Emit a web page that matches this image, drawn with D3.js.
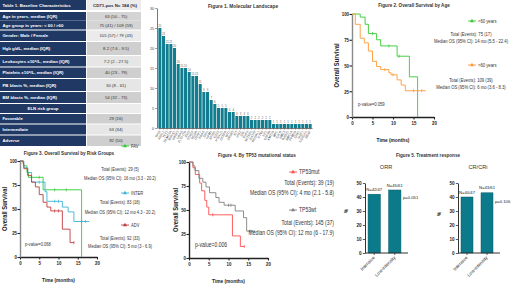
<!DOCTYPE html>
<html>
<head>
<meta charset="utf-8">
<script src="https://cdn.jsdelivr.net/npm/d3@7"></script>
<style>
  body { margin: 0; background: #fff; }
  svg { display: block; }
</style>
</head>
<body>
<svg id="chart" width="520" height="292"></svg>
<script>
// ---- table data ----
const tableHead = ["Table 1. Baseline Characteristics", "CD71-pos N= 184 (%)"];
const tableLabels = ["Age in years, median (IQR)", "Age group in years: < 60 / >60", "Gender: Male / Female",
  "Hgb g/dL, median (IQR)", "Leukocytes x10\u2079/L, median (IQR)", "Platelets x10\u2079/L, median (IQR)",
  "PB blasts %, median (IQR)", "BM blasts %, median (IQR)", "ELN risk group", "Favorable", "Intermediate", "Adverse"];
const tableValues = ["63 (50 - 75)", "75 (41) / 109 (59)", "105 (57) / 79 (43)", "8.2 (7.6 - 9.5)", "7.2 (2 - 27.5)",
  "40 (23 - 79)", "30 (8 - 61)", "54 (32 - 73)", "", "29 (16)", "63 (34)", "92 (50)"];

// ---- figure 1 data ----
const genes = ["TP53", "ASXL1", "TET2", "DNMT3A", "RUNX1", "SRSF2", "NRAS", "FLT3-ITD", "IDH2", "STAG2", "BCOR",
  "U2AF1", "KRAS", "IDH1", "NPM1", "SF3B1", "EZH2", "PTPN11", "CEBPA", "WT1", "ZRSR2", "KIT", "JAK2", "CBL",
  "PHF6", "SETBP1", "GATA2", "BCORL1", "ETV6", "NF1", "CSF3R", "KMT2A", "MPL", "CALR", "SMC3", "RAD21",
  "SMC1A", "PPM1D", "CUX1", "IKZF1", "NOTCH1", "BRAF"];
const geneCounts = [25, 23, 21, 21, 20, 16, 15, 15, 14, 13, 13, 11, 9, 9, 7, 6, 5, 5, 5, 4, 4, 3, 3, 3, 3,
  2, 2, 2, 2, 2, 2, 1, 1, 1, 1, 1, 1, 1, 1, 1, 1, 1];
const geneTicksY = [0, 5, 10, 15, 20, 25, 30];

// ---- survival data (time in months, survival %) ----
const survTicksX = [0, 5, 10, 15, 20];
const survTicksY = [0, 25, 50, 75, 100];

const ageLt60 = [[0, 100], [2, 97], [3.2, 90], [4, 81], [6, 75], [7, 69], [11, 59], [14, 39], [16, 0]];
const ageGe60 = [[0, 100], [0.8, 90], [2, 76.5], [3, 72], [4, 64], [5, 54], [6, 49], [7, 46], [9, 43],
  [9.5, 41], [11, 36], [12, 31], [13, 25.5], [18, 25.5]];
const ageLt60Cens = [5, 9, 11.5];
const ageGe60Cens = [8, 10, 15, 17];
const ageLegend = [
  ["<60 years", "Total (Events): 75 (17)", "Median OS (95% CI): 14 mo (5.5 - 22.4)"],
  [">60 years", "Total (Events): 109 (39)", "Median OS (95% CI): 6 mo (3.6 - 8.3)"]
];

const riskFav = [[0, 100], [0.9, 95], [1.8, 88], [2.2, 83], [6, 70], [16, 0]];
const riskInter = [[0, 100], [1, 93], [2, 88], [3, 78], [6.5, 68], [7, 58], [11, 52], [12.5, 47], [14, 37], [18, 37]];
const riskAdv = [[0, 100], [0.8, 97], [1, 92], [2, 85], [3, 78], [4, 73], [5, 65], [6, 57], [7, 52], [8, 48],
  [11, 29], [13, 15], [14, 15]];
const riskFavCens = [5, 9, 12];
const riskInterCens = [5, 9, 10, 16, 17];
const riskAdvCens = [9, 10, 14];
const riskLegend = [
  ["FAV", "Total (Events): 29 (5)", "Median OS (95% CI): 16 mo (3.3 - 20.2)"],
  ["INTER", "Total (Events): 83 (18)", "Median OS (95% CI): 12 mo 4.3 - 20.2)"],
  ["ADV", "Total (Events): 92 (33)", "Median OS (95% CI): 5 mo (3 - 6.9)"]
];

const tp53Mut = [[0, 100], [1, 94], [1.6, 87], [2.7, 78], [3.2, 70], [4, 60], [4.5, 53], [5, 45], [11, 23], [13, 12], [14, 12]];
const tp53Wt = [[0, 100], [1, 96], [1.5, 91], [2.5, 83], [3.5, 79], [4.3, 74], [5.2, 68], [6.8, 63], [7.6, 58],
  [8.9, 55], [11.7, 49], [13.8, 42], [14.6, 28], [16.8, 28]];
const tp53MutCens = [6, 14];
const tp53WtCens = [10, 10.6, 15.5];
const tp53Legend = [
  ["TP53mut", "Total (Events): 39 (19)", "Median OS (95% CI): 4 mo (2.1 - 5.8)"],
  ["TP53wt", "Total (Events): 145 (37)", "Median OS (95% CI): 12 mo (6 - 17.9)"]
];

// ---- figure 5 data ----
const responseGroups = ["Intensive", "Low-intensity"];
const orrValues = [42, 45];
const orrLabels = ["N=42/47", "N=45/61"];
const crValues = [40, 43];
const crLabels = ["N=40/47", "N=43/61"];
const respTicksY = [0, 10, 20, 30, 40, 50];

const FONT = "'Liberation Sans', Arial, sans-serif";
const svg = d3.select("#chart");

// condensed text: a text squeezed horizontally inside its own group
function ctext(parent, x, y, str, fs, k, anchor) {
  return parent.append("g").attr("transform", `translate(${x},${y}) scale(${k},1)`)
    .append("text").attr("text-anchor", anchor || "start").attr("font-size", fs)
    .attr("fill", "#333").text(str);
}

// ================= Table =================
const navy = "#1f3864";
const rowBox = [[12, 20.5], [20.5, 29.5], [30.5, 41], [42, 55], [56, 66.5], [67.5, 78], [79, 91], [92, 103],
  [104, 113], [114, 123.5], [124.5, 134.5], [135.5, 146]];
const rowShade = ["#d4d4d4", "#d4d4d4", "#ebebeb", "#cfcfcf", "#e6e6e6", "#cfcfcf", "#e6e6e6", "#cfcfcf",
  "#ececec", "#cfcfcf", "#e6e6e6", "#cfcfcf"];
const tbl = svg.append("g").attr("font-family", FONT);
tbl.append("rect").attr("x", 0).attr("y", 0).attr("width", 86).attr("height", 10).attr("fill", navy);
tbl.append("rect").attr("x", 87).attr("y", 0).attr("width", 54).attr("height", 10).attr("fill", "#ececec");
tbl.append("text").attr("x", 2.5).attr("y", 6.6).attr("font-size", 4.4).attr("font-weight", "bold")
  .attr("fill", "#fff").text(tableHead[0]);
tbl.append("text").attr("x", 115).attr("y", 6.6).attr("font-size", 4.4).attr("font-weight", "bold")
  .attr("text-anchor", "middle").attr("fill", "#1f2a44").text(tableHead[1]);

tableLabels.forEach((lab, i) => {
  const [t, b] = rowBox[i];
  tbl.append("rect").attr("x", 0).attr("y", t).attr("width", 86).attr("height", b - t).attr("fill", navy);
  tbl.append("rect").attr("x", 87).attr("y", t).attr("width", 54).attr("height", b - t).attr("fill", rowShade[i]);
  const cy = (t + b) / 2 + 1.5;
  const isHead = lab === "ELN risk group";
  tbl.append("text").attr("x", isHead ? 43 : 2.5).attr("y", cy)
    .attr("text-anchor", isHead ? "middle" : "start")
    .attr("font-size", 4.3).attr("font-weight", "bold").attr("fill", "#fff").text(lab);
  tbl.append("text").attr("x", 116).attr("y", cy).attr("text-anchor", "middle")
    .attr("font-size", 4.3).attr("fill", "#333").text(tableValues[i]);
});

// ================= Figure 1 =================
const f1 = svg.append("g").attr("font-family", FONT);
const gx = d3.scaleBand().domain(genes).range([158, 312]).paddingInner(0.18).paddingOuter(0.1);
const gy = d3.scaleLinear().domain([0, 30]).range([128, 8]);

f1.append("text").attr("x", 243).attr("y", 7.5).attr("text-anchor", "middle")
  .attr("font-size", 4.8).attr("font-weight", "bold").attr("fill", "#333").text("Figure 1. Molecular Landscape");

f1.selectAll("rect.bar").data(geneCounts).join("rect").attr("class", "bar")
  .attr("x", (d, i) => gx(genes[i])).attr("width", gx.bandwidth())
  .attr("y", d => gy(d)).attr("height", d => gy(0) - gy(d))
  .attr("fill", "#117d8f");
f1.selectAll("text.val").data(geneCounts).join("text").attr("class", "val")
  .attr("x", (d, i) => gx(genes[i]) + gx.bandwidth() / 2).attr("y", d => gy(d) - 1.2)
  .attr("text-anchor", "middle").attr("font-size", 2.8).attr("fill", "#666").text(d => d);

const f1y = f1.append("g").attr("transform", "translate(157,0)")
  .call(d3.axisLeft(gy).tickValues(geneTicksY).tickSize(1.8).tickSizeOuter(0).tickPadding(1));
const f1x = f1.append("g").attr("transform", "translate(0,128)")
  .call(d3.axisBottom(gx).tickSize(1.5).tickSizeOuter(0).tickPadding(1));
[f1y, f1x].forEach(a => {
  a.select(".domain").attr("stroke", "#555").attr("stroke-width", 0.8);
  a.selectAll(".tick line").attr("stroke", "#555").attr("stroke-width", 0.6);
  a.selectAll("text").attr("font-family", FONT).attr("fill", "#444");
});
f1y.selectAll("text").attr("font-size", 3.8);
f1x.selectAll("text").attr("font-size", 3.2).attr("text-anchor", "end")
  .attr("y", 0).attr("dx", 0).attr("dy", "0.3em")
  .attr("transform", "translate(0,3) rotate(-60)");

// ================= Kaplan-Meier helper =================
function drawKM(o) {
  const g = svg.append("g").attr("font-family", FONT);
  const x = d3.scaleLinear().domain([0, 20]).range([o.left, o.right]);
  const y = d3.scaleLinear().domain([0, 100]).range([o.bottom, o.top]);
  const stepLine = d3.line().x(d => x(d[0])).y(d => y(d[1])).curve(d3.curveStepAfter);

  g.append("text").attr("x", o.titleX).attr("y", o.titleY).attr("text-anchor", "middle")
    .attr("font-size", 4.6).attr("font-weight", "bold").attr("fill", "#333").text(o.title);

  const ax = g.append("g").attr("transform", `translate(0,${o.bottom})`)
    .call(d3.axisBottom(x).tickValues(survTicksX).tickSize(2.5).tickSizeOuter(0).tickPadding(1.5));
  const ay = g.append("g").attr("transform", `translate(${o.left},0)`)
    .call(d3.axisLeft(y).tickValues(survTicksY).tickSize(2.5).tickSizeOuter(0).tickPadding(1.2));
  [ax, ay].forEach(a => {
    a.select(".domain").attr("stroke", "#222").attr("stroke-width", 1.4);
    a.selectAll(".tick line").attr("stroke", "#222").attr("stroke-width", 1.1);
    a.selectAll("text").attr("font-size", 5.5).attr("font-weight", "bold")
      .attr("font-family", FONT).attr("fill", "#222").attr("transform", "scale(0.8,1)");
  });
  ay.select(".domain").attr("stroke", o.yAxisColor);

  o.series.forEach(s => {
    g.append("path").datum(s.data).attr("d", stepLine)
      .attr("fill", "none").attr("stroke", s.color).attr("stroke-width", 0.9);
    const at = t => s.data[d3.bisector(d => d[0]).right(s.data, t) - 1][1];
    g.selectAll(null).data(s.cens).join("line")
      .attr("x1", t => x(t)).attr("x2", t => x(t))
      .attr("y1", t => y(at(t)) - 1.6).attr("y2", t => y(at(t)) + 1.6)
      .attr("stroke", s.color).attr("stroke-width", 0.7);
  });

  ctext(g, (o.left + o.right) / 2, o.bottom + 24.5, "Time (months)", 6, 0.8, "middle")
    .attr("font-weight", "bold").attr("fill", "#222");
  g.append("g").attr("transform", `translate(${o.ylabX},${(o.top + o.bottom) / 2}) rotate(-90) scale(0.9,1)`)
    .append("text").attr("text-anchor", "middle").attr("font-size", 6.5).attr("font-weight", "bold")
    .attr("fill", "#222").text("Overall Survival");

  ctext(g, o.pX, o.pY + 2, o.pText, o.fs, o.k);

  o.legend.forEach((L, i) => {
    const s = o.series[i];
    const txt = o.legendText[i];
    g.append("line").attr("x1", L.mx - 4).attr("x2", L.mx + 4).attr("y1", L.my).attr("y2", L.my)
      .attr("stroke", s.color).attr("stroke-width", 0.9);
    g.append("path").attr("transform", `translate(${L.mx},${L.my})`)
      .attr("d", d3.symbol(d3.symbolTriangle).size(7)).attr("fill", s.color);
    ctext(g, L.mx + 6, L.my + 2, txt[0], o.fs, o.k);
    [L.ty1, L.ty2].forEach((ty, j) => {
      ctext(g, o.legendX, ty + 2, txt[j + 1], o.fs, o.k, o.legendAnchor);
    });
  });
}

// ================= Figure 2 =================
drawKM({
  left: 352, right: 434, top: 14, bottom: 117, yAxisColor: "#8a8a8a",
  title: "Figure 2. Overall Survival by Age", titleX: 414, titleY: 6.5,
  ylabX: 339, pText: "p-value=0.059", pX: 358, pY: 104, fs: 6, k: 0.7,
  series: [
    { data: ageLt60, cens: ageLt60Cens, color: "#33cc33" },
    { data: ageGe60, cens: ageGe60Cens, color: "#ff9933" }
  ],
  legendText: ageLegend, legendX: 471, legendAnchor: "middle",
  legend: [{ mx: 472, my: 21, ty1: 34, ty2: 41 }, { mx: 472, my: 65, ty1: 80, ty2: 87 }]
});

// ================= Figure 3 =================
drawKM({
  left: 20, right: 97, top: 161, bottom: 257, yAxisColor: "#8a8a8a",
  title: "Figure 3. Overall Survival by Risk Groups", titleX: 69, titleY: 154.5,
  ylabX: 7, pText: "p-value=0.068", pX: 25, pY: 244, fs: 5.8, k: 0.7,
  series: [
    { data: riskFav, cens: riskFavCens, color: "#33cc33" },
    { data: riskInter, cens: riskInterCens, color: "#3ab4d4" },
    { data: riskAdv, cens: riskAdvCens, color: "#c23b3b" }
  ],
  legendText: riskLegend, legendX: 120, legendAnchor: "middle",
  legend: [{ mx: 125, my: 146, ty1: 169, ty2: 178 }, { mx: 125, my: 193, ty1: 202, ty2: 212 },
    { mx: 125, my: 225, ty1: 238, ty2: 246 }]
});

// ================= Figure 4 =================
drawKM({
  left: 189, right: 268, top: 162, bottom: 258, yAxisColor: "#222",
  title: "Figure 4. By TP53 mutational status", titleX: 257, titleY: 156.5,
  ylabX: 177.5, pText: "p-value=0.006", pX: 195, pY: 245, fs: 6.5, k: 0.78,
  series: [
    { data: tp53Mut, cens: tp53MutCens, color: "#ff4d4d" },
    { data: tp53Wt, cens: tp53WtCens, color: "#808080" }
  ],
  legendText: tp53Legend, legendX: 334, legendAnchor: "end",
  legend: [{ mx: 293, my: 172, ty1: 183, ty2: 193 }, { mx: 293, my: 210, ty1: 223, ty2: 233 }]
});

// ================= Figure 5 =================
const f5 = svg.append("g").attr("font-family", FONT);
f5.append("text").attr("x", 428).attr("y", 157).attr("text-anchor", "middle")
  .attr("font-size", 4.6).attr("font-weight", "bold").attr("fill", "#333").text("Figure 5. Treatment response");

function drawResponse(o) {
  const g = f5.append("g");
  const x = d3.scaleBand().domain(responseGroups).range([o.left + 1, o.right - 5]).paddingInner(0.4).paddingOuter(0.1);
  const y = d3.scaleLinear().domain([0, 50]).range([253, 183]);

  g.append("text").attr("x", o.titleX).attr("y", 169).attr("text-anchor", "middle")
    .attr("font-size", 5.6).attr("fill", "#333").text(o.title);

  g.selectAll("rect").data(o.values).join("rect")
    .attr("x", (d, i) => x(responseGroups[i])).attr("width", x.bandwidth())
    .attr("y", d => y(d)).attr("height", d => y(0) - y(d))
    .attr("fill", "#0b7b8b").attr("stroke", "#075e6a").attr("stroke-width", 0.5);
  g.selectAll("text.n").data(o.values).join("text").attr("class", "n")
    .attr("x", (d, i) => x(responseGroups[i]) + x.bandwidth() / 2).attr("y", d => y(d) - 3.5)
    .attr("text-anchor", "middle").attr("font-size", 4.2).attr("fill", "#222").text((d, i) => o.labels[i]);

  const ay = g.append("g").attr("transform", `translate(${o.left},0)`)
    .call(d3.axisLeft(y).tickValues(respTicksY).tickSize(2.2).tickSizeOuter(0).tickPadding(1.2));
  const ax = g.append("g").attr("transform", "translate(0,253)")
    .call(d3.axisBottom(x).tickSize(2).tickSizeOuter(0).tickPadding(1));
  ax.select(".domain").remove();
  g.append("line").attr("x1", o.left).attr("x2", o.right).attr("y1", 253).attr("y2", 253)
    .attr("stroke", "#333").attr("stroke-width", 1);
  [ax, ay].forEach(a => {
    a.select(".domain").attr("stroke", "#333").attr("stroke-width", 1);
    a.selectAll(".tick line").attr("stroke", "#333").attr("stroke-width", 0.8);
    a.selectAll("text").attr("font-family", FONT).attr("fill", "#222");
  });
  ay.selectAll("text").attr("font-size", 4.6).attr("font-weight", "bold");
  ax.selectAll("text").attr("font-size", 4.6).attr("text-anchor", "end").attr("y", 0).attr("dy", "0.3em")
    .attr("transform", "translate(0,4) rotate(-45)");

  g.append("text").attr("transform", `translate(${o.left - 17},${o.pctY}) rotate(-90)`)
    .attr("text-anchor", "middle").attr("font-size", 4.6).attr("font-weight", "bold").attr("fill", "#222").text("%");
  g.append("text").attr("x", o.right - 5).attr("y", o.pY).attr("font-size", 4.2).attr("fill", "#222").text(o.p);
}

drawResponse({ left: 365, right: 408, title: "ORR", titleX: 386, values: orrValues, labels: orrLabels,
  p: "p=0.051", pY: 198.5, pctY: 211 });
drawResponse({ left: 458, right: 500, title: "CR/CRi", titleX: 478, values: crValues, labels: crLabels,
  p: "p=0.106", pY: 202.5, pctY: 214 });
</script>
</body>
</html>
